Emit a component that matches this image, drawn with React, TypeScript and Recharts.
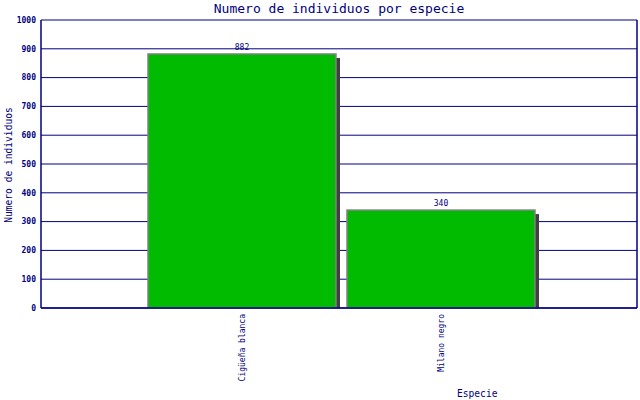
import { BarChart, Bar, XAxis, YAxis, CartesianGrid, LabelList } from 'recharts';

const especies = ['Cigüeña blanca', 'Milano negro'];
const individuos = [882, 340];
const yTicks = [0, 100, 200, 300, 400, 500, 600, 700, 800, 900, 1000];

const data = especies.map((name, i) => ({ name, value: individuos[i] }));

const NAVY = '#000080';
const MONO = '"DejaVu Sans Mono", "Liberation Mono", monospace';

// barra con sombra gris desplazada
const ShadowBar = (props: any) => {
    const { x, y, width, height } = props;
    return (
        <g>
            <rect x={x + 4} y={y + 4} width={width} height={Math.max(height - 4, 0)} fill="#404040" />
            <rect x={x} y={y} width={width} height={height} fill="#00bb00" stroke="#808080" strokeWidth={1.5} />
        </g>
    );
};

const RotatedTick = (props: any) => {
    const { x, y, payload } = props;
    return (
        <text
            x={0}
            y={0}
            transform={`translate(${x + 3},${y - 2}) rotate(-90)`}
            textAnchor="end"
            fill={NAVY}
            fontSize={8}
            fontFamily={MONO}
        >
            {payload.value}
        </text>
    );
};

export default function App() {
    return (
        <div style={{ position: 'absolute', left: 0, top: 0, width: 640, height: 400, background: '#fff' }}>
            <div style={{ position: 'absolute', left: 0, width: 678, top: 1, textAlign: 'center', color: NAVY, fontFamily: MONO, fontSize: 13 }}>
                Numero de individuos por especie
            </div>
            <div style={{ position: 'absolute', left: 8, top: 165, width: 0, height: 0 }}>
                <div style={{ position: 'absolute', transform: 'translate(-50%, -50%) rotate(-90deg)', whiteSpace: 'nowrap', color: NAVY, fontFamily: MONO, fontSize: 9.6 }}>
                    Numero de individuos
                </div>
            </div>
            <div style={{ position: 'absolute', left: 457, top: 388, color: NAVY, fontFamily: MONO, fontSize: 9.6 }}>
                Especie
            </div>
            <BarChart width={640} height={400} data={data} margin={{ top: 20, right: 2, left: 0, bottom: 0 }} barSize={188}>
                <CartesianGrid vertical={false} stroke={NAVY} strokeWidth={1} />
                <XAxis
                    dataKey="name"
                    height={92}
                    padding={{ left: 101, right: 97 }}
                    axisLine={{ stroke: NAVY, strokeWidth: 1.5 }}
                    tickLine={false}
                    tick={<RotatedTick />}
                    interval={0}
                />
                <YAxis
                    width={41}
                    domain={[0, 1000]}
                    ticks={yTicks}
                    axisLine={{ stroke: NAVY, strokeWidth: 1.5 }}
                    tickLine={false}
                    tickSize={0}
                    tickMargin={5}
                    tick={{ fill: NAVY, fontSize: 8, fontWeight: 'bold', fontFamily: MONO }}
                />
                <YAxis
                    yAxisId="r"
                    orientation="right"
                    width={1}
                    domain={[0, 1000]}
                    tick={false}
                    tickLine={false}
                    axisLine={{ stroke: NAVY, strokeWidth: 1.5 }}
                />
                <Bar dataKey="value" shape={<ShadowBar />} isAnimationActive={false}>
                    <LabelList dataKey="value" position="top" offset={4} fill={NAVY} fontSize={8} fontFamily={MONO} />
                </Bar>
            </BarChart>
        </div>
    );
}
